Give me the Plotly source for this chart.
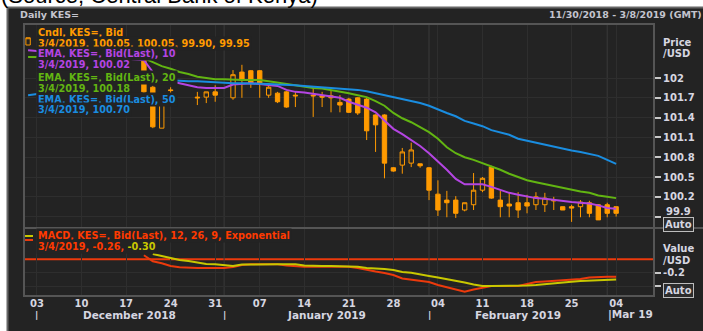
import math
import pandas as pd
import plotly.graph_objects as go

W, H = 703, 331

# ---------------- data ----------------
candle_dates = ["2018-11-30", "2018-12-19", "2018-12-20", "2018-12-21", "2018-12-24", "2018-12-27",
                "2018-12-28", "2018-12-31", "2019-01-02", "2019-01-03", "2019-01-04", "2019-01-07",
                "2019-01-08", "2019-01-09", "2019-01-10", "2019-01-11", "2019-01-15", "2019-01-16",
                "2019-01-17", "2019-01-18", "2019-01-21", "2019-01-22", "2019-01-23", "2019-01-24",
                "2019-01-25", "2019-01-28", "2019-01-29", "2019-01-30", "2019-01-31", "2019-02-01",
                "2019-02-04", "2019-02-05", "2019-02-06", "2019-02-07", "2019-02-08", "2019-02-11",
                "2019-02-12", "2019-02-13", "2019-02-14", "2019-02-15", "2019-02-18", "2019-02-19",
                "2019-02-20", "2019-02-21", "2019-02-22", "2019-02-25", "2019-02-26", "2019-02-27",
                "2019-02-28", "2019-03-01", "2019-03-04"]
cndl_open = [102.50, 102.29, 101.86, 101.24, 101.82, 101.71, 101.71, 101.79, 101.70, 102.09, 102.11, 102.11,
             101.74, 101.77, 101.79, 101.74, 101.74, 101.73, 101.73, 101.63, 101.68, 101.70, 101.68, 101.44,
             101.44, 100.64, 100.68, 100.71, 100.70, 100.64, 100.24, 100.15, 100.15, 100.00, 100.08, 100.30,
             100.65, 100.15, 100.09, 100.11, 100.11, 100.08, 100.08, 100.15, 100.05, 100.05, 100.05, 100.11,
             100.08, 100.08, 100.05]
cndl_high = [102.61, 102.32, 101.88, 101.69, 101.86, 101.79, 101.79, 101.89, 102.12, 102.20, 102.12, 102.12,
             101.89, 101.79, 101.80, 101.79, 101.85, 101.79, 101.82, 101.74, 101.70, 101.71, 101.71, 101.45,
             101.45, 100.65, 100.94, 101.02, 100.70, 100.65, 100.45, 100.29, 100.21, 100.11, 100.56, 100.50,
             100.67, 100.29, 100.26, 100.27, 100.23, 100.27, 100.26, 100.20, 100.05, 100.08, 100.15, 100.14,
             100.09, 100.11, 100.05]
cndl_low = [102.50, 101.77, 101.24, 101.24, 101.77, 101.59, 101.62, 101.64, 101.67, 101.70, 101.85, 101.70,
            101.70, 101.62, 101.55, 101.56, 101.41, 101.56, 101.48, 101.48, 101.47, 101.44, 101.06, 100.88,
            100.48, 100.58, 100.55, 100.65, 100.64, 100.15, 99.91, 99.89, 99.88, 99.98, 100.00, 100.27,
            100.17, 99.89, 99.89, 99.88, 99.95, 100.00, 99.97, 100.00, 100.00, 99.82, 99.89, 99.89,
            99.85, 99.89, 99.90]
cndl_close = [102.61, 101.79, 101.26, 101.67, 101.81, 101.70, 101.79, 101.74, 102.05, 101.97, 101.92, 101.92,
              101.86, 101.64, 101.56, 101.73, 101.73, 101.71, 101.70, 101.59, 101.48, 101.47, 101.20, 101.29,
              100.71, 100.59, 100.88, 100.91, 100.67, 100.30, 100.00, 100.11, 99.95, 100.11, 100.30, 100.48,
              100.18, 100.05, 100.06, 100.00, 100.06, 100.20, 100.18, 100.14, 100.00, 100.03, 100.12, 99.95,
              99.85, 99.95, 99.95]

line_dates = ["2018-11-30"] + list(pd.bdate_range("2018-12-19", "2019-03-04").strftime("%Y-%m-%d"))
ema10 = [102.42,
         102.27, 102.09, 102.00, 101.95, 101.92, 101.89, 101.86, 101.85, 101.85, 101.85,
         101.90, 101.91, 101.92, 101.91, 101.89, 101.88, 101.82, 101.79, 101.78, 101.76,
         101.74, 101.73, 101.70, 101.64, 101.59, 101.55, 101.48, 101.36, 101.23, 101.15,
         101.06, 100.97, 100.86, 100.74, 100.61, 100.47, 100.39, 100.39, 100.39, 100.35,
         100.30, 100.26, 100.23, 100.20, 100.18, 100.17, 100.15, 100.13, 100.12, 100.11,
         100.10, 100.07, 100.03, 100.02]
ema20 = [102.32,
         102.30, 102.24, 102.18, 102.14, 102.09, 102.06, 102.02, 102.00, 101.98, 101.98,
         101.97, 101.97, 101.97, 101.97, 101.95, 101.93, 101.91, 101.88, 101.87, 101.85,
         101.84, 101.82, 101.80, 101.77, 101.74, 101.71, 101.65, 101.58, 101.47, 101.39,
         101.33, 101.26, 101.18, 101.08, 100.95, 100.86, 100.80, 100.76, 100.71, 100.67,
         100.61, 100.55, 100.50, 100.45, 100.42, 100.39, 100.36, 100.34, 100.30, 100.28,
         100.26, 100.22, 100.20, 100.18]
ema50 = [101.74,
         101.98, 101.98, 101.97, 101.96, 101.95, 101.95, 101.95, 101.94, 101.94, 101.93,
         101.92, 101.92, 101.92, 101.91, 101.91, 101.90, 101.90, 101.89, 101.88, 101.87,
         101.86, 101.86, 101.85, 101.83, 101.82, 101.80, 101.77, 101.75, 101.72, 101.69,
         101.65, 101.62, 101.58, 101.52, 101.47, 101.42, 101.35, 101.31, 101.27, 101.21,
         101.17, 101.14, 101.08, 101.05, 101.02, 100.98, 100.95, 100.92, 100.90, 100.88,
         100.85, 100.82, 100.76, 100.70]

macd_dates = line_dates[1:]
macd_line = [0.06, -0.03, -0.06, -0.10, -0.12, -0.13, -0.13, -0.13, -0.13, -0.13,
             -0.115, -0.085, -0.075, -0.075, -0.075, -0.075, -0.093, -0.107, -0.11, -0.11,
             -0.11, -0.11, -0.11, -0.11, -0.13, -0.16, -0.182, -0.204, -0.234, -0.287,
             -0.302, -0.325, -0.34, -0.384, -0.421, -0.458, -0.484, -0.451, -0.421, -0.399,
             -0.399, -0.399, -0.399, -0.369, -0.339, -0.331, -0.324, -0.316, -0.301, -0.294,
             -0.272, -0.264, -0.26, -0.26]
signal_line = [None, 0.079, 0.049, 0.024, -0.010, -0.025, -0.048, -0.070, -0.075, -0.093,
               -0.100, -0.078, -0.075, -0.075, -0.075, -0.075, -0.075, -0.075, -0.093, -0.100,
               -0.100, -0.100, -0.100, -0.100, -0.110, -0.130, -0.134, -0.145, -0.160, -0.190,
               -0.200, -0.219, -0.249, -0.272, -0.294, -0.324, -0.346, -0.376, -0.399, -0.399,
               -0.399, -0.399, -0.399, -0.391, -0.384, -0.369, -0.358, -0.346, -0.334, -0.324,
               -0.319, -0.310, -0.299, -0.30]

week_ticks = list(pd.date_range("2018-12-03", "2019-03-04", freq="7D").strftime("%Y-%m-%d"))
week_labels = [d[-2:] for d in week_ticks]
price_ticks = [99.9, 100.2, 100.5, 100.8, 101.1, 101.4, 101.7, 102.0]
price_labels = ["", "100.2", "100.5", "100.8", "101.1", "101.4", "101.7", "102"]
macd_ticks = [-0.4, -0.2]
macd_labels = ["", "-0.2"]
month_starts = ["2018-12-03", "2019-01-01", "2019-02-01"]
month_names = ["December 2018", "January 2019", "February 2019"]
month_label_pos = ["2018-12-17 08:00", "2019-01-16 13:00", "2019-02-15 00:00"]
last_month_label = "|Mar 19"
last_month_pos = "2019-02-28 21:00"

# ---------------- style ----------------
FRAME_BG = "#232323"
GRID = "#2e2e2e"
BORDER = "#555555"
TXT = "#d6d6e0"
ORANGE = "#ff9a00"
MAGENTA = "#b445e2"
GREEN = "#62b512"
BLUE = "#1a8de0"
RED = "#ec3a0c"
YELLOW = "#c8c800"
FONT = "DejaVu Sans"

X0, X1 = 24, 654
Y_TOP, Y_MID, Y_BOT = 24, 228, 296


def px(x):
    return x / W


def py(y):
    return 1 - y / H


def fnt(color=TXT, size=10, bold=True):
    return dict(family=FONT, size=size, color=color, weight="bold" if bold else "normal")


fig = go.Figure()

fig.add_trace(go.Candlestick(
    x=candle_dates, open=cndl_open, high=cndl_high, low=cndl_low, close=cndl_close,
    increasing=dict(line=dict(color=ORANGE, width=1), fillcolor=FRAME_BG),
    decreasing=dict(line=dict(color=ORANGE, width=1), fillcolor=ORANGE),
    whiskerwidth=0, xaxis="x", yaxis="y", hoverinfo="skip", showlegend=False))

for vals, col in [(ema10, MAGENTA), (ema20, GREEN), (ema50, BLUE)]:
    fig.add_trace(go.Scatter(x=line_dates, y=vals, mode="lines", line=dict(color=col, width=2),
                             xaxis="x", yaxis="y", hoverinfo="skip", showlegend=False))

fig.add_trace(go.Scatter(x=macd_dates, y=macd_line, mode="lines", line=dict(color=RED, width=2),
                         xaxis="x", yaxis="y2", hoverinfo="skip", showlegend=False))
fig.add_trace(go.Scatter(x=macd_dates, y=signal_line, mode="lines", line=dict(color=YELLOW, width=2),
                         xaxis="x", yaxis="y2", hoverinfo="skip", showlegend=False))

# last-value flags on the right edge
flag_x = "2019-03-08 21:00"
flags = [(ema50[-1], BLUE, "triangle-down", "y"), (ema20[-1], GREEN, "triangle-left", "y"),
         (cndl_close[-1], ORANGE, "square", "y"), (ema10[-1], MAGENTA, "star", "y"),
         (signal_line[-1], YELLOW, "circle", "y2"), (macd_line[-1], RED, "triangle-up", "y2")]
for v, col, sym, ya in flags:
    fig.add_trace(go.Scatter(x=[flag_x], y=[v], mode="markers", cliponaxis=False,
                             marker=dict(color=col, symbol=sym, size=7, line=dict(width=0)),
                             xaxis="x", yaxis=ya, hoverinfo="skip", showlegend=False))

price_rng = [102 - (Y_MID - 78) / 66, 102 + (78 - Y_TOP) / 66]
macd_rng = [-(Y_BOT - 259.3) / 67, (259.3 - Y_MID) / 67]

shapes = [
    dict(type="rect", xref="paper", yref="paper", x0=px(7.5), x1=px(W + 20), y0=py(7.5), y1=py(H + 20),
         fillcolor=FRAME_BG, line=dict(color="#666666", width=2), layer="below"),
    dict(type="line", xref="paper", yref="y2", x0=px(X0), x1=px(X1), y0=0, y1=0,
         line=dict(color=RED, width=2), layer="below"),
]
for d in month_starts[1:] + ["2019-03-01"]:
    shapes.append(dict(type="line", xref="x", yref="paper", x0=d, x1=d, y0=py(Y_BOT), y1=py(Y_TOP),
                       line=dict(color="#3a3a3a", width=1), layer="below"))
shapes += [
    dict(type="rect", xref="paper", yref="paper", x0=px(X0), x1=px(X1), y0=py(Y_BOT), y1=py(Y_TOP),
         line=dict(color=BORDER, width=2)),
    dict(type="line", xref="paper", yref="paper", x0=px(X0), x1=px(W + 5), y0=py(Y_MID), y1=py(Y_MID),
         line=dict(color=BORDER, width=2)),
    # MACD legend keys
    dict(type="line", xref="paper", yref="paper", x0=px(25), x1=px(33), y0=py(236), y1=py(236),
         line=dict(color=YELLOW, width=2)),
    dict(type="line", xref="paper", yref="paper", x0=px(25), x1=px(33), y0=py(240), y1=py(240),
         line=dict(color=RED, width=2)),
]

ann = []


def add_text(text, x, y, color=TXT, size=10, xanchor="left", bg=None, bold=True, **kw):
    d = dict(text=text, xref="paper", yref="paper", x=px(x), y=py(y), xanchor=xanchor, yanchor="middle",
             showarrow=False, font=fnt(color, size, bold), borderpad=1)
    if bg:
        d["bgcolor"] = bg
    d.update(kw)
    ann.append(d)


# top source caption (cut off by the page top)
ann.append(dict(text="(Source; Central Bank of Kenya)", xref="paper", yref="paper", x=px(-1), y=py(10),
                xanchor="left", yanchor="bottom", showarrow=False,
                font=dict(family="Liberation Sans", size=22, color="#000000")))

add_text("Daily KES=", 18, 15, color="#c4c4ce", size=9.5)
add_text("11/30/2018 - 3/8/2019 (GMT)", 704, 15, color="#c4c4ce", size=9.5, xanchor="right")

last = candle_dates[-1]
last_lbl = f"{int(last[5:7])}/{int(last[8:10])}/{last[:4]}"
legend_rows = [
    ("Cndl, KES=, Bid", ORANGE, 32.5),
    (f"{last_lbl}, {cndl_open[-1]:.2f}, {cndl_high[-1]:.2f}, {cndl_low[-1]:.2f}, {cndl_close[-1]:.2f}", ORANGE, 43),
    ("EMA, KES=, Bid(Last), 10", MAGENTA, 54),
    (f"{last_lbl}, {ema10[-1]:.2f}", MAGENTA, 64.5),
    ("EMA, KES=, Bid(Last), 20", GREEN, 77.5),
    (f"{last_lbl}, {ema20[-1]:.2f}", GREEN, 88),
    ("EMA, KES=, Bid(Last), 50", BLUE, 99),
    (f"{last_lbl}, {ema50[-1]:.2f}", BLUE, 109.5),
]
for t, c, y in legend_rows:
    add_text(t, 36, y, color=c, size=9.7, bg=FRAME_BG)

add_text("MACD, KES=, Bid(Last), 12, 26, 9, Exponential", 36, 236, color="#ff3a00", size=9.7, bg=FRAME_BG)
add_text(f"{last_lbl}, {macd_line[-1]:.2f}, <span style='color:{YELLOW}'>{signal_line[-1]:.2f}</span>",
         36, 246.5, color="#ff3a00", size=9.7, bg=FRAME_BG)

# right axis titles and boxes
add_text("Price", 661, 42)
add_text("/USD", 661, 53)
add_text("Value", 661, 248)
add_text("/USD", 661, 260)
add_text("Auto", 663, 224, bg="#2c2c2c", bordercolor="#bdbdbd", borderwidth=1)
add_text("Auto", 663, 290.5, bg="#2c2c2c", bordercolor="#bdbdbd", borderwidth=1)
ann.append(dict(text=f"{math.floor(cndl_close[-1] * 10 + 1e-9) / 10:.1f}", xref="paper", yref="y",
                x=px(664), y=cndl_close[-1], xanchor="left", yanchor="middle", showarrow=False,
                font=fnt(), yshift=2))

# month labels under the week ticks
for name, pos in zip(month_names, month_label_pos):
    ann.append(dict(text=name, xref="x", yref="paper", x=pos, y=py(314.5), xanchor="center",
                    yanchor="middle", showarrow=False, font=fnt(size=10.5)))
for d in month_starts:
    ann.append(dict(text="|", xref="x", yref="paper", x=d, y=py(315), xanchor="center",
                    yanchor="middle", showarrow=False, font=fnt(size=9)))
ann.append(dict(text=last_month_label, xref="x", yref="paper", x=last_month_pos, y=py(314.5), xanchor="left",
                yanchor="middle", showarrow=False, font=fnt(size=10.5)))

fig.update_layout(
    width=W, height=H, margin=dict(l=0, r=0, t=0, b=0, pad=0, autoexpand=False),
    paper_bgcolor="white", plot_bgcolor="rgba(0,0,0,0)", showlegend=False,
    xaxis=dict(domain=[px(X0), px(X1)], anchor="y2", type="date", automargin=False,
               range=["2018-11-29 13:00", "2019-03-08 06:00"],
               rangebreaks=[dict(bounds=["sat", "mon"])], rangeslider=dict(visible=False),
               tickmode="array", tickvals=week_ticks, ticktext=week_labels,
               showgrid=True, gridcolor=GRID, gridwidth=1, zeroline=False, showline=False,
               ticks="", tickfont=fnt(size=10)),
    yaxis=dict(domain=[py(Y_MID), py(Y_TOP)], anchor="x", side="right", range=price_rng, automargin=False,
               tickmode="array", tickvals=price_ticks, ticktext=price_labels,
               ticks="outside", ticklen=6, tickwidth=2, tickcolor="#c8c8c8",
               showgrid=True, gridcolor=GRID, zeroline=False, showline=False, tickfont=fnt(size=10)),
    yaxis2=dict(domain=[py(Y_BOT), py(Y_MID)], anchor="x", side="right", range=macd_rng, automargin=False,
                tickmode="array", tickvals=macd_ticks, ticktext=macd_labels,
                ticks="outside", ticklen=6, tickwidth=2, tickcolor="#c8c8c8",
                showgrid=True, gridcolor=GRID, zeroline=False, showline=False, tickfont=fnt(size=10)),
    shapes=shapes, annotations=ann,
)

fig.write_html("out.html", config={"displayModeBar": False},
               post_script="document.body.style.margin='0px';document.body.style.overflow='hidden';")
